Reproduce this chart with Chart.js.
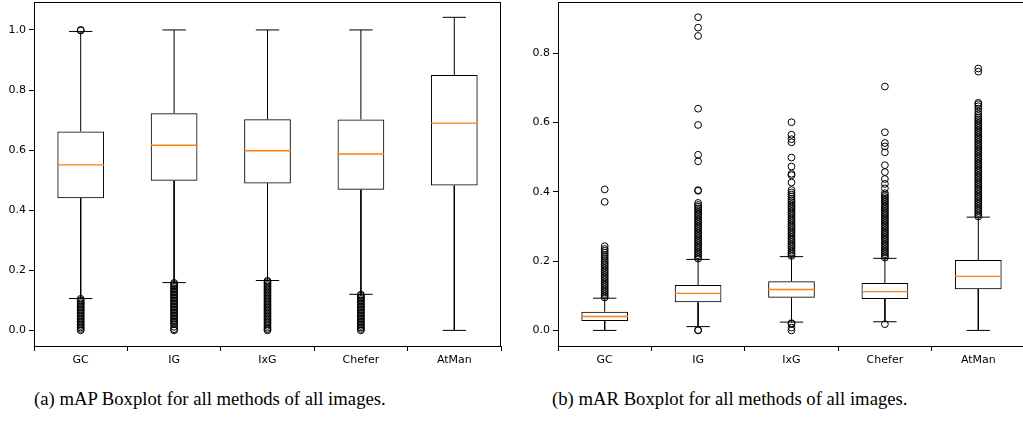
<!DOCTYPE html>
<html>
<head>
<meta charset="utf-8">
<script src="https://cdn.jsdelivr.net/npm/chart.js@4.4.1/dist/chart.umd.min.js"></script>
<style>
    html, body { margin: 0; padding: 0; background: #fff; overflow: hidden; width: 1023px; height: 421px; }
    .panel { position: absolute; top: 0; }
    .caption {
        position: absolute;
        top: 390px;
        font-family: "Liberation Serif", "Times New Roman", serif;
        font-size: 18.7px;
        line-height: 1;
        white-space: nowrap;
        color: #000;
    }
</style>
</head>
<body>
<canvas id="mapChart" class="panel" width="510" height="366" style="left:0px"></canvas>
<canvas id="marChart" class="panel" width="510" height="366" style="left:524px"></canvas>
<div class="caption" style="left:34px">(a) mAP Boxplot for all methods of all images.</div>
<div class="caption" style="left:552px">(b) mAR Boxplot for all methods of all images.</div>
<script>
// Categories
const categories = ['GC', 'IG', 'IxG', 'Chefer', 'AtMan'];

// mAP (left panel)
const mapTicks = [0.0, 0.2, 0.4, 0.6, 0.8, 1.0];
const mapQ1 = [0.440, 0.498, 0.489, 0.468, 0.482];
const mapMedian = [0.551, 0.616, 0.598, 0.587, 0.690];
const mapQ3 = [0.662, 0.723, 0.703, 0.702, 0.850];
const mapWhiskerLow = [0.106, 0.159, 0.166, 0.120, 0.0];
const mapWhiskerHigh = [0.995, 1.0, 1.0, 1.0, 1.042];
const mapOutGC = [1.0, 0.998, 0.105, 0.1, 0.095, 0.09, 0.085, 0.08, 0.075, 0.07, 0.065, 0.06, 0.055, 0.05, 0.045, 0.04,
    0.035, 0.03, 0.025, 0.02, 0.015, 0.01, 0.005, 0.0];
const mapOutIG = [0.158, 0.154, 0.15, 0.145, 0.14, 0.135, 0.13, 0.125, 0.12, 0.115, 0.11, 0.105, 0.1, 0.095, 0.09, 0.085,
    0.08, 0.075, 0.07, 0.065, 0.06, 0.055, 0.05, 0.045, 0.04, 0.035, 0.03, 0.025, 0.02, 0.012, 0.004, 0.0];
const mapOutIxG = [0.165, 0.161, 0.156, 0.151, 0.146, 0.141, 0.136, 0.131, 0.126, 0.121, 0.116, 0.111, 0.106, 0.101, 0.096,
    0.091, 0.086, 0.081, 0.076, 0.071, 0.066, 0.061, 0.056, 0.051, 0.046, 0.041, 0.036, 0.031, 0.026, 0.021, 0.015, 0.009,
    0.004, 0.0];
const mapOutChefer = [0.119, 0.115, 0.11, 0.105, 0.1, 0.095, 0.09, 0.085, 0.08, 0.075, 0.07, 0.065, 0.06, 0.055, 0.05,
    0.045, 0.04, 0.035, 0.03, 0.025, 0.02, 0.015, 0.01, 0.005, 0.0];
const mapOutAtMan = [];

// mAR (right panel)
const marTicks = [0.0, 0.2, 0.4, 0.6, 0.8];
const marQ1 = [0.027, 0.081, 0.094, 0.091, 0.119];
const marMedian = [0.040, 0.107, 0.118, 0.112, 0.156];
const marQ3 = [0.054, 0.131, 0.142, 0.137, 0.203];
const marWhiskerLow = [0.0, 0.011, 0.024, 0.025, 0.0];
const marWhiskerHigh = [0.093, 0.205, 0.213, 0.208, 0.327];
const marOutGC = [0.095, 0.1, 0.105, 0.11, 0.115, 0.12, 0.125, 0.13, 0.135, 0.14, 0.145, 0.15, 0.155, 0.16, 0.165, 0.17,
    0.175, 0.18, 0.185, 0.19, 0.195, 0.2, 0.206, 0.212, 0.218, 0.224, 0.23, 0.235, 0.243, 0.371, 0.407];
const marOutIG = [0.0, 0.001, 0.207, 0.212, 0.217, 0.222, 0.227, 0.232, 0.237, 0.242, 0.247, 0.252, 0.257, 0.262, 0.267,
    0.272, 0.277, 0.282, 0.287, 0.292, 0.297, 0.302, 0.307, 0.312, 0.317, 0.322, 0.327, 0.332, 0.337, 0.342, 0.347, 0.352,
    0.357, 0.362, 0.368, 0.403, 0.405, 0.488, 0.507, 0.593, 0.64, 0.85, 0.874, 0.904];
const marOutIxG = [0.021, 0.019, 0.008, 0.0, 0.215, 0.22, 0.225, 0.23, 0.235, 0.24, 0.245, 0.25, 0.255, 0.26, 0.265, 0.27,
    0.275, 0.28, 0.285, 0.29, 0.295, 0.3, 0.305, 0.31, 0.315, 0.32, 0.325, 0.33, 0.335, 0.34, 0.345, 0.35, 0.355, 0.36,
    0.365, 0.37, 0.375, 0.38, 0.386, 0.392, 0.398, 0.405, 0.427, 0.448, 0.452, 0.473, 0.499, 0.543, 0.552, 0.565, 0.601];
const marOutChefer = [0.018, 0.21, 0.215, 0.22, 0.225, 0.23, 0.235, 0.24, 0.245, 0.25, 0.255, 0.26, 0.265, 0.27, 0.275,
    0.28, 0.285, 0.29, 0.295, 0.3, 0.305, 0.31, 0.315, 0.32, 0.325, 0.33, 0.335, 0.34, 0.345, 0.35, 0.355, 0.36, 0.365,
    0.37, 0.375, 0.38, 0.385, 0.39, 0.396, 0.41, 0.423, 0.437, 0.457, 0.477, 0.514, 0.531, 0.541, 0.572, 0.704];
const marOutAtMan = [0.329, 0.334, 0.339, 0.344, 0.349, 0.354, 0.359, 0.364, 0.369, 0.374, 0.379, 0.384, 0.389, 0.394,
    0.399, 0.404, 0.409, 0.414, 0.419, 0.424, 0.429, 0.434, 0.439, 0.444, 0.449, 0.454, 0.459, 0.464, 0.469, 0.474, 0.479,
    0.484, 0.489, 0.494, 0.499, 0.504, 0.509, 0.514, 0.519, 0.524, 0.529, 0.534, 0.539, 0.544, 0.549, 0.554, 0.559, 0.564,
    0.569, 0.574, 0.579, 0.584, 0.589, 0.594, 0.599, 0.604, 0.609, 0.614, 0.619, 0.625, 0.632, 0.64, 0.647, 0.653, 0.657,
    0.747, 0.756];

// Box geometry in x units
const BOX_HALF = 0.25;
const CAP_HALF = 0.125;
const MEDIAN_COLOR = '#ff7f0e';
const LINE_COLOR = '#000';
const FONT = { family: 'DejaVu Sans', size: 11 };

// Draw top and right spines
const framePlugin = {
    id: 'frame',
    afterDraw(chart) {
        const { ctx, chartArea } = chart;
        ctx.save();
        ctx.strokeStyle = LINE_COLOR;
        ctx.lineWidth = 1;
        ctx.beginPath();
        ctx.moveTo(chartArea.left, Math.round(chartArea.top) + 0.5);
        ctx.lineTo(chartArea.right, Math.round(chartArea.top) + 0.5);
        ctx.moveTo(Math.round(chartArea.right) - 0.5, chartArea.top);
        ctx.lineTo(Math.round(chartArea.right) - 0.5, chartArea.bottom);
        ctx.stroke();
        ctx.restore();
    }
};

document.addEventListener('DOMContentLoaded', function() {
    createBoxChart('mapChart', {
        q1: mapQ1, median: mapMedian, q3: mapQ3,
        low: mapWhiskerLow, high: mapWhiskerHigh,
        outliers: [mapOutGC, mapOutIG, mapOutIxG, mapOutChefer, mapOutAtMan],
        yMin: -0.052, yMax: 1.093, ticks: mapTicks
    });
    createBoxChart('marChart', {
        q1: marQ1, median: marMedian, q3: marQ3,
        low: marWhiskerLow, high: marWhiskerHigh,
        outliers: [marOutGC, marOutIG, marOutIxG, marOutChefer, marOutAtMan],
        yMin: -0.045, yMax: 0.948, ticks: marTicks
    });
});

// Build datasets for one boxplot panel
function buildDatasets(stats) {
    const boxes = categories.map((c, i) => ({ x: i + 1, y: [stats.q1[i], stats.q3[i]] }));
    const medians = [];
    const whiskers = [];
    const caps = [];
    const fliers = [];

    categories.forEach((c, i) => {
        const x = i + 1;
        medians.push({ x: x - BOX_HALF, y: stats.median[i] }, { x: x + BOX_HALF, y: stats.median[i] }, { x: x, y: null });
        whiskers.push(
            { x: x, y: stats.q3[i] }, { x: x, y: stats.high[i] }, { x: x, y: null },
            { x: x, y: stats.q1[i] }, { x: x, y: stats.low[i] }, { x: x, y: null }
        );
        caps.push(
            { x: x - CAP_HALF, y: stats.high[i] }, { x: x + CAP_HALF, y: stats.high[i] }, { x: x, y: null },
            { x: x - CAP_HALF, y: stats.low[i] }, { x: x + CAP_HALF, y: stats.low[i] }, { x: x, y: null }
        );
        stats.outliers[i].forEach(v => fliers.push({ x: x, y: v }));
    });

    const lineStyle = {
        type: 'line',
        pointRadius: 0,
        spanGaps: false,
        tension: 0,
        fill: false
    };

    return [
        {
            type: 'bar',
            data: boxes,
            backgroundColor: 'rgba(0,0,0,0)',
            borderColor: LINE_COLOR,
            borderWidth: 1,
            borderSkipped: false,
            barPercentage: 0.5,
            categoryPercentage: 1.0,
            grouped: false,
            order: 3
        },
        Object.assign({ data: whiskers, borderColor: LINE_COLOR, borderWidth: 1, order: 2 }, lineStyle),
        Object.assign({ data: caps, borderColor: LINE_COLOR, borderWidth: 1, order: 2 }, lineStyle),
        {
            type: 'scatter',
            data: fliers,
            showLine: false,
            pointStyle: 'circle',
            pointRadius: 3.4,
            pointBorderWidth: 1,
            pointBorderColor: LINE_COLOR,
            pointBackgroundColor: 'rgba(0,0,0,0)',
            order: 1
        },
        Object.assign({ data: medians, borderColor: MEDIAN_COLOR, borderWidth: 1.4, order: 0 }, lineStyle)
    ];
}

// Create one boxplot chart
function createBoxChart(canvasId, stats) {
    const ctx = document.getElementById(canvasId).getContext('2d');
    return new Chart(ctx, {
        type: 'line',
        data: { datasets: buildDatasets(stats) },
        plugins: [framePlugin],
        options: {
            responsive: false,
            animation: false,
            events: [],
            layout: { autoPadding: false, padding: { top: 2, right: 9, left: 0, bottom: 0 } },
            plugins: {
                legend: { display: false },
                tooltip: { enabled: false }
            },
            scales: {
                x: {
                    type: 'linear',
                    min: 0.5,
                    max: 5.5,
                    offset: false,
                    afterBuildTicks: scale => {
                        scale.ticks = categories.map((c, i) => ({ value: i + 1 }));
                    },
                    afterFit: scale => {
                        scale.height = 20;
                        scale.paddingLeft = 0;
                        scale.paddingRight = 0;
                    },
                    ticks: {
                        autoSkip: false,
                        maxRotation: 0,
                        padding: 3,
                        color: '#000',
                        font: FONT,
                        callback: value => categories[value - 1]
                    },
                    grid: { drawOnChartArea: false, drawTicks: true, tickLength: 5, color: LINE_COLOR },
                    border: { display: true, color: LINE_COLOR, width: 1 }
                },
                y: {
                    type: 'linear',
                    min: stats.yMin,
                    max: stats.yMax,
                    afterBuildTicks: scale => {
                        scale.ticks = stats.ticks.map(v => ({ value: v }));
                    },
                    afterFit: scale => {
                        scale.width = 34;
                        scale.paddingTop = 0;
                        scale.paddingBottom = 0;
                    },
                    ticks: {
                        padding: 3,
                        color: '#000',
                        font: FONT,
                        callback: value => value.toFixed(1)
                    },
                    grid: { drawOnChartArea: false, drawTicks: true, tickLength: 5, color: LINE_COLOR },
                    border: { display: true, color: LINE_COLOR, width: 1 }
                }
            }
        }
    });
}
</script>
</body>
</html>
